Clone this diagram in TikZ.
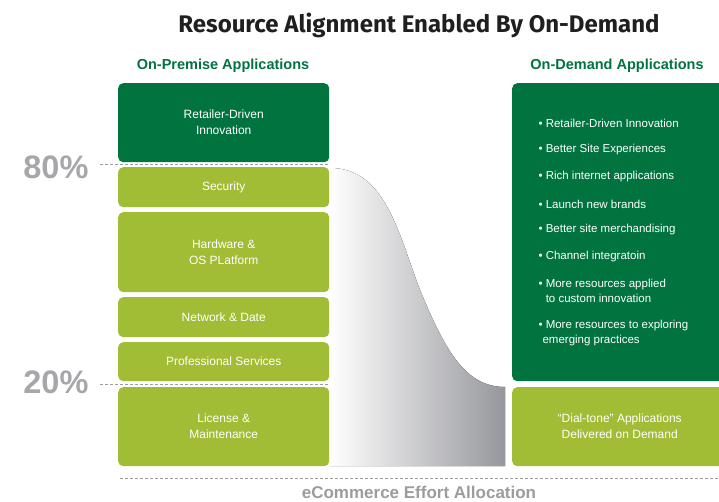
\documentclass[tikz,border=0pt]{standalone}
\usepackage{fontspec}
\setmainfont{Liberation Sans}
\newfontfamily\headfont{Fira Sans}
\usetikzlibrary{positioning}

\definecolor{darkgrn}{HTML}{00733F}
\definecolor{lightgrn}{HTML}{A0BD35}
\definecolor{pctgray}{HTML}{A6A7AA}
\definecolor{axisgray}{HTML}{9C9C9E}
\definecolor{curvegray}{HTML}{96979C}

\tikzset{
  box/.style={rounded corners=5pt, minimum width=211pt, anchor=north west,
    inner sep=0pt, text=white, align=center, font=\fontsize{12}{16}\selectfont},
  dark/.style={box, fill=darkgrn},
  light/.style={box, fill=lightgrn},
  head/.style={text=darkgrn, font=\fontsize{14.5}{16}\selectfont\bfseries},
  pct/.style={text=pctgray, font=\fontsize{32.5}{34}\selectfont\bfseries},
  level/.style={axisgray, densely dashed, line width=0.8pt},
}

\begin{document}
\begin{tikzpicture}[x=1pt, y=-1pt]
  \useasboundingbox (0,0) rectangle (719,502);

  % title and column heads
  \node[font=\headfont\fontsize{24}{28}\selectfont\bfseries, text=black!88] (title) at (419,25) {Resource Alignment Enabled By On-Demand};
  \node[head] (premhead) at (223,66) {On-Premise Applications};
  \node[head] (demhead) at (617,66) {On-Demand Applications};

  % shaded curve between the two columns
  \fill[left color=white, right color=curvegray]
    (330,168) .. controls (385,168) and (398,232) .. (420,290)
    .. controls (445,350) and (465,387) .. (505,387) -- (505,466) -- (330,466) -- cycle;

  % on-premise stack
  \node[dark, minimum height=79pt] (retail) at (118,83) {Retailer-Driven\\Innovation};
  \node[light, minimum height=40pt] (security) at (118,167) {Security};
  \node[light, minimum height=80pt] (hardware) at (118,212) {Hardware \&\\OS PLatform};
  \node[light, minimum height=40pt] (network) at (118,297) {Network \& Date};
  \node[light, minimum height=39pt] (prof) at (118,342) {Professional Services};
  \node[light, minimum height=79pt] (license) at (118,387) {License \&\\Maintenance};

  % on-demand stack
  \node[dark, minimum width=215pt, minimum height=298pt] (ondemand) at (512,83) {};
  \node[light, minimum width=215pt, minimum height=79pt] (dialtone) at (512,387) {``Dial-tone'' Applications\\Delivered on Demand};
  \begin{scope}[every node/.style={anchor=west, text=white, align=left, font=\fontsize{11.5}{15}\selectfont}]
    \node (b1) at (535,123) {\textbullet\ Retailer-Driven Innovation};
    \node (b2) at (535,150) {\textbullet\ Better Site Experiences};
    \node (b3) at (535,177) {\textbullet\ Rich internet applications};
    \node (b4) at (535,204) {\textbullet\ Launch new brands};
    \node (b5) at (535,230) {\textbullet\ Better site merchandising};
    \node (b6) at (535,257) {\textbullet\ Channel integratoin};
    \node (b7) at (535,291) {\textbullet\ More resources applied\\\phantom{\textbullet\ }to custom innovation};
    \node (b8) at (535,333) {\textbullet\ More resources to exploring\\\phantom{\textbullet}emerging practices};
  \end{scope}

  % percentage levels
  \node[pct, anchor=east] (p80) at (92,167) {80\%};
  \node[pct, anchor=east] (p20) at (92,382) {20\%};
  \draw[level] (100,164.5) -- (329,164.5);
  \draw[level] (100,384.5) -- (329,384.5);

  % bottom axis
  \draw[level] (120,478) -- (719,478);
  \node[text=axisgray, font=\fontsize{17}{19}\selectfont\bfseries] (axis) at (419,492) {eCommerce Effort Allocation};
\end{tikzpicture}
\end{document}
